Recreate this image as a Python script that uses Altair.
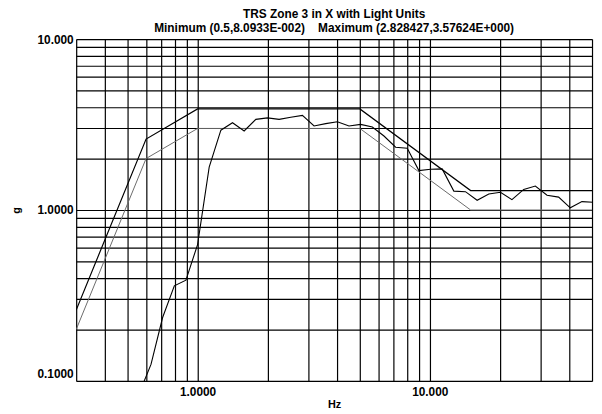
import altair as alt
import pandas as pd

# ---- data ----
# Required response spectrum (RRS) envelope, lower line (g)
rrs_freq = [0.3, 0.6, 1.0, 5.0, 15.0, 50.0]
rrs_g = [0.2, 2.0, 3.0, 3.0, 1.0, 1.0]
# Upper envelope (1.3 x RRS)
upper_freq = [0.3, 0.6, 1.0, 5.0, 15.0, 50.0]
upper_g = [0.26, 2.6, 3.9, 3.9, 1.3, 1.3]
# Test response spectrum (TRS), 1/6-octave points
trs_freq = [0.5, 0.561, 0.63, 0.707, 0.794, 0.891, 1.0, 1.122, 1.26, 1.414,
            1.587, 1.782, 2.0, 2.245, 2.52, 2.828427, 3.175, 3.564, 4.0, 4.49,
            5.04, 5.66, 6.35, 7.13, 8.0, 8.98, 10.08, 11.31, 12.7, 14.25,
            16.0, 17.96, 20.16, 22.6, 25.4, 28.5, 32.0, 35.9, 40.3, 45.25, 50.8]
trs_g = [0.0809, 0.085, 0.125, 0.235, 0.36, 0.389, 0.628, 1.78, 2.93, 3.24,
         2.90, 3.39, 3.46, 3.39, 3.49, 3.576, 3.10, 3.20, 3.28, 3.10,
         3.17, 3.06, 2.71, 2.33, 2.30, 1.70, 1.73, 1.74, 1.29, 1.28,
         1.14, 1.24, 1.27, 1.15, 1.32, 1.38, 1.22, 1.19, 1.03, 1.12, 1.11]

x_grid = [0.3, 0.4, 0.5, 0.6, 0.7, 0.8, 0.9, 1, 2, 3, 4, 5, 6, 7, 8, 9, 10, 20, 30, 40, 50]
y_grid = [0.1, 0.2, 0.3, 0.4, 0.5, 0.6, 0.7, 0.8, 0.9, 1, 2, 3, 4, 5, 6, 7, 8, 9, 10]
x_label_values = [1, 10]
x_label_texts = ["1.0000", "10.000"]
y_label_values = [10, 1, 0.1]
y_label_texts = ["10.000", "1.0000", "0.1000"]

title_lines = ["TRS Zone 3 in X with Light Units",
               "Minimum (0.5,8.0933E-002)\u00a0\u00a0\u00a0\u00a0Maximum (2.828427,3.57624E+000)"]


def label_expr(values, texts):
    expr = "''"
    for v, t in reversed(list(zip(values, texts))):
        expr = f"datum.value == {v} ? '{t}' : ({expr})"
    return expr


FONT = "Liberation Sans"

x_scale = alt.Scale(type="log", domain=[0.3, 50], nice=False)
y_scale = alt.Scale(type="log", domain=[0.1, 10], nice=False)

x_axis = alt.Axis(values=x_grid, labelExpr=label_expr(x_label_values, x_label_texts),
                  grid=True, gridColor="black", gridWidth=1.2, gridOpacity=1,
                  ticks=False, domain=False, labelOverlap=False, labelBound=False,
                  labelFont=FONT, labelFontSize=12, labelFontWeight="bold", labelColor="black",
                  labelBaseline="middle", labelPadding=11,
                  title="Hz", titleFont=FONT, titleFontSize=11, titleFontWeight="bold",
                  titleColor="black", titleX=261, titleY=24, titleBaseline="middle")

y_axis = alt.Axis(values=y_grid, labelExpr=label_expr(y_label_values, y_label_texts),
                  grid=True, gridColor="black", gridWidth=1.2, gridOpacity=1,
                  ticks=False, domain=False, labelOverlap=False, labelBound=False,
                  labelFont=FONT, labelFontSize=12, labelFontWeight="bold", labelColor="black",
                  labelAlign="right", labelPadding=3,
                  labelBaseline={"condition": {"test": "datum.value < 0.5", "value": "bottom"},
                                 "value": "middle"},
                  title="g", titleFont=FONT, titleFontSize=11, titleFontWeight="bold",
                  titleColor="black", titleX=-60, titleY=173, titleAngle=270,
                  titleAlign="center", titleBaseline="middle")

rrs_df = pd.DataFrame({"f": rrs_freq, "g": rrs_g})
up_df = pd.DataFrame({"f": upper_freq, "g": upper_g})
trs_df = pd.DataFrame({"f": trs_freq, "g": trs_g})

base_x = alt.X("f:Q", scale=x_scale, axis=x_axis)
base_y = alt.Y("g:Q", scale=y_scale, axis=y_axis)

lower = alt.Chart(rrs_df).mark_line(color="#6a6a6a", strokeWidth=1, clip=True).encode(x=base_x, y=base_y)
upper = alt.Chart(up_df).mark_line(color="black", strokeWidth=1.2, clip=True).encode(
    x=alt.X("f:Q", scale=x_scale), y=alt.Y("g:Q", scale=y_scale))
trs = alt.Chart(trs_df).mark_line(color="black", strokeWidth=1.1, clip=True).encode(
    x=alt.X("f:Q", scale=x_scale), y=alt.Y("g:Q", scale=y_scale))

chart = alt.layer(lower, upper, trs).properties(
    width=522, height=346,
    autosize=alt.AutoSizeParams(type="none"),
    padding={"left": 69, "top": 29, "right": 2, "bottom": 31},
    title=alt.TitleParams(text=title_lines, font=FONT, fontSize=12, fontWeight="bold",
                          color="black", anchor="middle", frame="group", offset=-2,
                          lineHeight=14),
).configure_view(stroke="black", strokeWidth=1.3).configure(background="white")

chart.save("out.html", embed_options={"renderer": "svg", "actions": False})
